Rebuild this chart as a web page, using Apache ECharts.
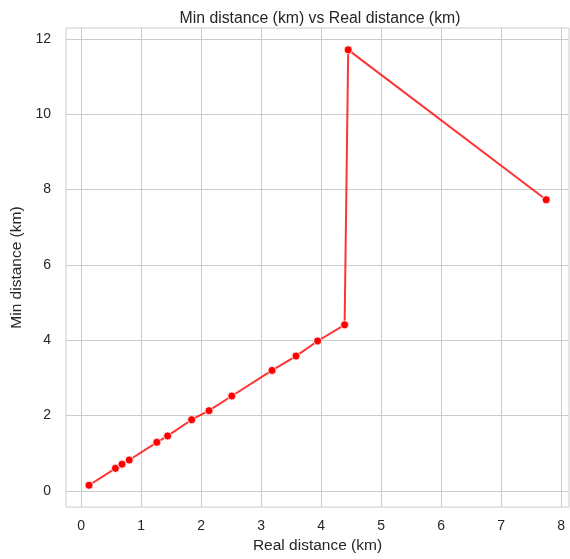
<!DOCTYPE html>
<html>
<head>
<meta charset="utf-8">
<script src="https://cdn.jsdelivr.net/npm/echarts@6/dist/echarts.min.js"></script>
<style>html,body{margin:0;padding:0;background:#fff;}#c{width:570px;height:559px;}</style>
</head>
<body>
<div id="c"></div>
<script>
const realDistance = [0.13, 0.57, 0.68, 0.80, 1.26, 1.44, 1.84, 2.13, 2.51, 3.18, 3.58, 3.94, 4.39, 4.45, 7.75];
const minDistance = [0.15, 0.60, 0.71, 0.82, 1.29, 1.46, 1.89, 2.13, 2.52, 3.20, 3.58, 3.98, 4.41, 11.71, 7.73];
const xTicks = [0, 1, 2, 3, 4, 5, 6, 7, 8];
const yTicks = [0, 2, 4, 6, 8, 10, 12];

const chart = echarts.init(document.getElementById('c'), null, {renderer: 'canvas'});
const font = 'Liberation Sans, Arial, sans-serif';
const textColor = '#262626';
chart.setOption({
  animation: false,
  backgroundColor: '#ffffff',
  title: {
    text: 'Min distance (km) vs Real distance (km)',
    left: 315, top: 6, textAlign: 'center',
    textStyle: {fontFamily: font, fontSize: 15.8, fontWeight: 'normal', color: textColor}
  },
  grid: {left: 66, right: 1, top: 28, bottom: 51, show: true, borderColor: '#cccccc', borderWidth: 1, backgroundColor: '#ffffff'},
  xAxis: {
    type: 'value', min: -0.254, max: 8.13,
    name: 'Real distance (km)', nameLocation: 'middle', nameGap: 30,
    nameTextStyle: {fontFamily: font, fontSize: 15.5, color: textColor},
    axisLine: {show: false},
    axisTick: {show: false, customValues: xTicks},
    axisLabel: {customValues: xTicks, fontFamily: font, fontSize: 14, color: textColor, margin: 12},
    splitLine: {show: true, lineStyle: {color: '#cccccc', width: 1}}
  },
  yAxis: {
    type: 'value', min: -0.43, max: 12.29,
    name: 'Min distance (km)', nameLocation: 'middle', nameGap: 32, nameRotate: 90,
    nameTextStyle: {fontFamily: font, fontSize: 15.5, color: textColor},
    axisLine: {show: false},
    axisTick: {show: false, customValues: yTicks},
    axisLabel: {customValues: yTicks, fontFamily: font, fontSize: 14, color: textColor, margin: 15},
    splitLine: {show: true, lineStyle: {color: '#cccccc', width: 1}}
  },
  series: [{
    type: 'line',
    data: realDistance.map((x, i) => [x, minDistance[i]]),
    symbol: 'circle', symbolSize: 8,
    lineStyle: {color: 'rgba(255,0,0,0.8)', width: 2},
    itemStyle: {color: '#ff0000', borderColor: '#ffffff', borderWidth: 0.75},
    z: 3
  }]
});
</script>
</body>
</html>
